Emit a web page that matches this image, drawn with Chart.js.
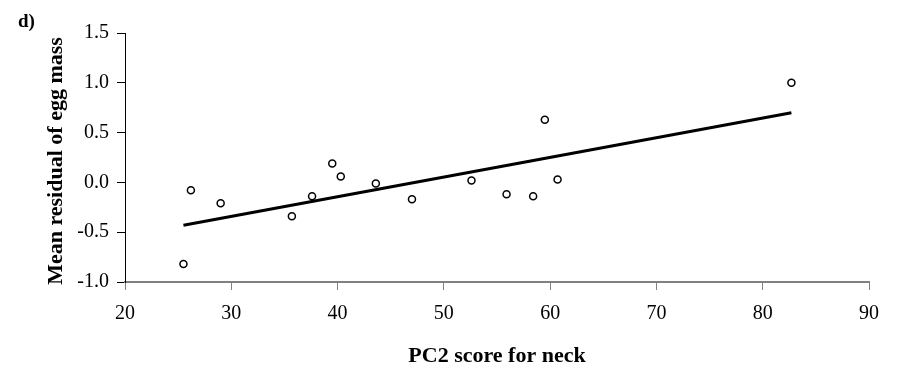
<!DOCTYPE html>
<html>
<head>
<meta charset="utf-8">
<script src="https://cdn.jsdelivr.net/npm/chart.js@4.4.1/dist/chart.umd.min.js"></script>
<style>
  html, body { margin: 0; padding: 0; background: #ffffff; }
  #wrap { width: 897px; height: 371px; }
</style>
</head>
<body>
<div id="wrap"><canvas id="c" width="897" height="371"></canvas></div>
<script>
// Data
const pc2Scores    = [25.5, 26.2, 29.0, 35.7, 37.6, 39.5, 40.3, 43.6, 47.0, 52.6, 55.9, 58.4, 59.5, 60.7, 82.7];
const eggResiduals = [-0.82, -0.08, -0.21, -0.34, -0.14, 0.19, 0.06, -0.01, -0.17, 0.02, -0.12, -0.14, 0.63, 0.03, 1.00];
const fitX = [25.5, 82.7];
const fitY = [-0.43, 0.70];
const xTicks = [20, 30, 40, 50, 60, 70, 80, 90];
const yTicks = [-1.0, -0.5, 0.0, 0.5, 1.0, 1.5];
const panelLabel = 'd)';
const xTitle = 'PC2 score for neck';
const yTitle = 'Mean residual of egg mass';

const FONT = '"Liberation Serif", "Times New Roman", serif';

const pointsData = pc2Scores.map((x, i) => ({ x: x, y: eggResiduals[i] }));
const fitData = fitX.map((x, i) => ({ x: x, y: fitY[i] }));

const extraText = {
  id: 'extraText',
  afterDraw(chart) {
    const ctx = chart.ctx;
    ctx.save();
    ctx.fillStyle = '#000';
    ctx.font = 'bold 19px ' + FONT;
    ctx.textAlign = 'left';
    ctx.textBaseline = 'alphabetic';
    ctx.fillText(panelLabel, 18, 27);
    // y-axis title
    ctx.font = 'bold 22px ' + FONT;
    ctx.translate(56, 161);
    ctx.rotate(-Math.PI / 2);
    ctx.textAlign = 'center';
    ctx.textBaseline = 'middle';
    ctx.fillText(yTitle, 0, 0);
    ctx.restore();
  }
};

new Chart(document.getElementById('c'), {
  type: 'scatter',
  data: {
    datasets: [
      {
        label: 'Observed',
        data: pointsData,
        showLine: false,
        pointStyle: 'circle',
        pointRadius: 3.5,
        pointHoverRadius: 3.5,
        pointBorderWidth: 1.5,
        pointBorderColor: '#000',
        pointBackgroundColor: '#fff'
      },
      {
        label: 'Fit',
        data: fitData,
        showLine: true,
        borderColor: '#000',
        borderWidth: 3,
        pointRadius: 0,
        fill: false
      }
    ]
  },
  options: {
    responsive: false,
    animation: false,
    devicePixelRatio: 1,
    layout: { padding: { left: 0, top: 33, right: 28, bottom: 0 } },
    plugins: {
      legend: { display: false },
      tooltip: { enabled: false },
      title: { display: false }
    },
    scales: {
      x: {
        type: 'linear',
        min: 20, max: 90,
        afterBuildTicks(scale) { scale.ticks = xTicks.map(v => ({ value: v })); },
        afterFit(scale) { scale.height = 89; },
        grid: { display: true, drawOnChartArea: false, drawTicks: true, tickLength: 8, color: '#808080', lineWidth: 1 },
        border: { display: true, color: '#808080', width: 2 },
        ticks: {
          padding: 12,
          color: '#000',
          font: { family: FONT, size: 20 },
          maxRotation: 0,
          callback: v => String(v)
        },
        title: {
          display: true,
          text: xTitle,
          color: '#000',
          font: { family: FONT, size: 22, weight: 'bold' },
          padding: { top: 0, bottom: 1 }
        }
      },
      y: {
        type: 'linear',
        min: -1, max: 1.5,
        afterBuildTicks(scale) { scale.ticks = yTicks.map(v => ({ value: v })); },
        afterFit(scale) { scale.width = 125; },
        grid: { display: true, drawOnChartArea: false, drawTicks: true, tickLength: 8, color: '#000', lineWidth: 1 },
        border: { display: true, color: '#000', width: 1 },
        ticks: {
          padding: 8,
          color: '#000',
          font: { family: FONT, size: 20 },
          callback: v => Number(v).toFixed(1)
        },
        title: { display: false, text: yTitle }
      }
    }
  },
  plugins: [extraText]
});
</script>
</body>
</html>
